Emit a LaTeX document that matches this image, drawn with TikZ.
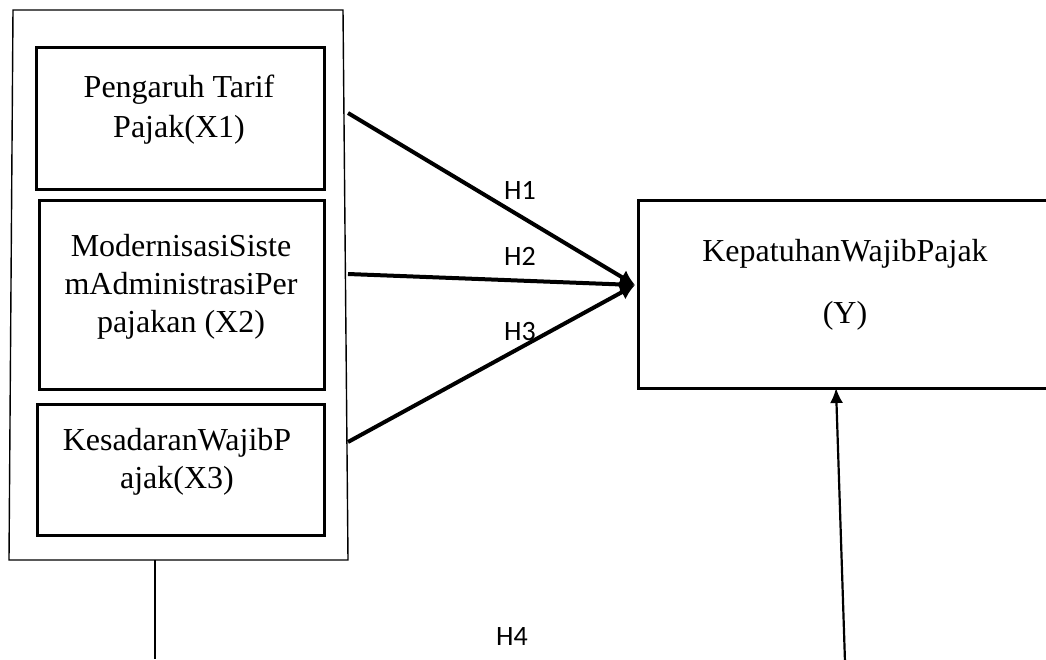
\documentclass[tikz,border=0pt]{standalone}
\usepackage{fontspec}
\setmainfont{Liberation Serif}
\newfontfamily\hfont{Carlito}
\usetikzlibrary{arrows.meta}
\tikzset{
  varbox/.style={draw, line width=2.8pt, rectangle, inner sep=0pt, anchor=north west},
  btxt/.style={anchor=base, inner sep=0pt, font=\fontsize{32}{39}\selectfont},
  hlab/.style={anchor=base west, inner sep=0pt, font=\hfont\fontsize{28}{32}\selectfont},
  hyp/.style={line width=4pt, -{Latex[length=15pt,width=16pt]}},
  thin/.style={line width=1.4pt},
}
\begin{document}
\begin{tikzpicture}[x=1pt,y=-1pt]
\useasboundingbox (0,0) rectangle (1046,659);
\clip (0,0) rectangle (1046,659);
% outer group frame
\draw[thin] (13,10) -- (343,10) -- (348,560) -- (9,560) -- cycle;
\coordinate (framebot) at (155,560);
\coordinate (lineend) at (155,659);
\draw[line width=1.2pt] (framebot) -- (lineend);
% variable boxes
\node[varbox, minimum width=288pt, minimum height=142pt] (x1) at (35,46) {};
\node[varbox, minimum width=285pt, minimum height=189pt] (x2) at (38,199) {};
\node[varbox, minimum width=287pt, minimum height=131pt] (x3) at (36,403) {};
\node[varbox, minimum width=430pt, minimum height=188pt] (y) at (637,199) {};
% texts
\node[btxt] (x1a) at (179,97) {Pengaruh Tarif};
\node[btxt] (x1b) at (179,137) {Pajak(X1)};
\node[btxt] (x2a) at (181,256) {ModernisasiSiste};
\node[btxt] (x2b) at (181,294) {mAdministrasiPer};
\node[btxt] (x2c) at (181,332) {pajakan (X2)};
\node[btxt] (x3a) at (177,450) {KesadaranWajibP};
\node[btxt] (x3b) at (177,488) {ajak(X3)};
\node[btxt] (ya) at (845,261) {KepatuhanWajibPajak};
\node[btxt] (yb) at (845,323) {(Y)};
% hypothesis arrows
\coordinate (s1) at (348,113);
\coordinate (s2) at (348,274);
\coordinate (s3) at (348,442);
\coordinate (tip) at (635,285);
\draw[hyp] (s1) -- (tip);
\draw[hyp] (s2) -- (tip);
\draw[hyp] (s3) -- (tip);
\node[hlab] (h1) at (504,199) {H1};
\node[hlab] (h2) at (504,265) {H2};
\node[hlab] (h3) at (504,340) {H3};
\node[hlab] (h4) at (496,645) {H4};
% H4 arrow
\coordinate (up0) at (845,662);
\coordinate (up1) at (836,388);
\draw[line width=2.2pt, -{Latex[length=15pt,width=13pt]}] (up0) -- (up1);
\end{tikzpicture}
\end{document}
